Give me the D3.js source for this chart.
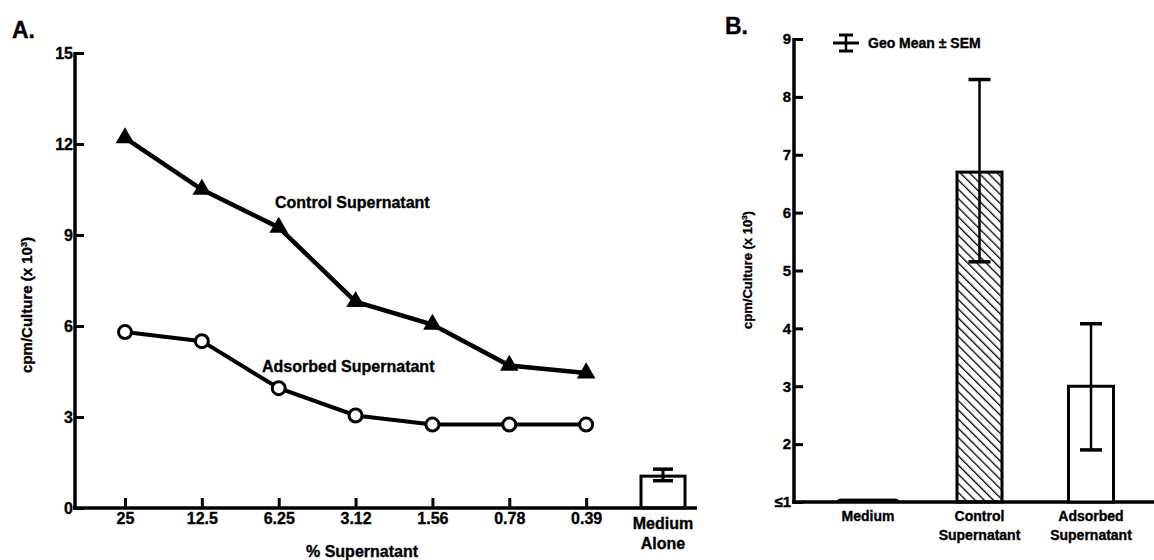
<!DOCTYPE html>
<html>
<head>
<meta charset="utf-8">
<script src="https://cdn.jsdelivr.net/npm/d3@7"></script>
<style>
	body { margin: 0; background: #fff; }
	text { font-family: "Liberation Sans", Arial, sans-serif; font-weight: bold; fill: #000; stroke: #000; stroke-width: 0.35px; }
</style>
</head>
<body>
<svg id="chart" width="1154" height="560"></svg>
<script>
// panel A
const concentrations = ['25', '12.5', '6.25', '3.12', '1.56', '0.78', '0.39'];
const controlValues = [12.2, 10.5, 9.25, 6.8, 6.05, 4.7, 4.45];
const adsorbedValues = [5.8, 5.5, 3.95, 3.05, 2.75, 2.75, 2.75];
const mediumAloneMean = 1.05;
const mediumAloneLow = 0.9;
const mediumAloneHigh = 1.28;
const yTicksA = [0, 3, 6, 9, 12, 15];

// panel B
const groupsB = ['Medium', 'Control Supernatant', 'Adsorbed Supernatant'];
const meansB = [1.05, 6.7, 3.0];
const lowB = [null, 5.15, 1.9];
const highB = [null, 8.3, 4.08];
const yTicksB = [1, 2, 3, 4, 5, 6, 7, 8, 9];

const svg = d3.select('#chart');

const defs = svg.append('defs');
defs
	.append('pattern')
	.attr('id', 'hatch')
	.attr('patternUnits', 'userSpaceOnUse')
	.attr('width', 6.5)
	.attr('height', 6.5)
	.attr('patternTransform', 'rotate(-45)')
	.append('line')
	.attr('x1', 0)
	.attr('y1', 0)
	.attr('x2', 0)
	.attr('y2', 6.5)
	.attr('stroke', '#000')
	.attr('stroke-width', 2.6);

// ---------- A ----------
const x = d3
	.scalePoint()
	.domain(concentrations.concat(['Medium Alone']))
	.range([125, 663]);
const y = d3.scaleLinear().domain([0, 15]).range([508, 53]);

svg.append('text').attr('x', 12).attr('y', 38).style('font-size', '23px').text('A.');

const axA = svg.append('g').attr('transform', 'translate(75,0)');
axA
	.call(d3.axisLeft(y).tickValues(yTicksA).tickSizeInner(-9).tickSizeOuter(0).tickPadding(2))
	.call(g => g.select('.domain').remove());
axA.selectAll('.tick line').attr('stroke-width', 3);
axA.selectAll('.tick text').style('font-size', '16px').style('font-family', null);
axA
	.append('line')
	.attr('y1', y(15) - 1)
	.attr('y2', y(0) + 1.5)
	.attr('stroke', '#000')
	.attr('stroke-width', 3.5);

const axAx = svg.append('g').attr('transform', 'translate(0,' + y(0) + ')');
axAx
	.call(d3.axisBottom(x).tickValues(concentrations).tickSizeInner(-10).tickSizeOuter(0).tickPadding(5))
	.call(g => g.select('.domain').remove());
axAx.selectAll('.tick line').attr('stroke-width', 3);
axAx.selectAll('.tick text').style('font-size', '16px').style('font-family', null);
axAx
	.append('line')
	.attr('x1', 73)
	.attr('x2', 697)
	.attr('stroke', '#000')
	.attr('stroke-width', 3.5);

const medLabel = svg
	.append('text')
	.attr('text-anchor', 'middle')
	.style('font-size', '16px');
medLabel.append('tspan').attr('x', x('Medium Alone')).attr('y', 529).text('Medium');
medLabel.append('tspan').attr('x', x('Medium Alone')).attr('y', 549).text('Alone');

svg
	.append('text')
	.attr('x', 362)
	.attr('y', 557)
	.attr('text-anchor', 'middle')
	.style('font-size', '16px')
	.text('% Supernatant');

svg
	.append('text')
	.attr('transform', 'translate(32,305) rotate(-90)')
	.attr('text-anchor', 'middle')
	.style('font-size', '15px')
	.html('cpm/Culture (x 10<tspan dy="-5" style="font-size:9px">3</tspan><tspan dy="5">)</tspan>');

// medium alone bar
const mx = x('Medium Alone');
svg
	.append('rect')
	.attr('x', mx - 22)
	.attr('y', y(mediumAloneMean))
	.attr('width', 44)
	.attr('height', y(0) - y(mediumAloneMean))
	.attr('fill', 'none')
	.attr('stroke', '#000')
	.attr('stroke-width', 3);
svg
	.append('line')
	.attr('x1', mx)
	.attr('x2', mx)
	.attr('y1', y(mediumAloneLow))
	.attr('y2', y(mediumAloneHigh))
	.attr('stroke', '#000')
	.attr('stroke-width', 3);
[mediumAloneLow, mediumAloneHigh].forEach(v => {
	svg
		.append('line')
		.attr('x1', mx - 10)
		.attr('x2', mx + 10)
		.attr('y1', y(v))
		.attr('y2', y(v))
		.attr('stroke', '#000')
		.attr('stroke-width', 3.5);
});

const line = d3
	.line()
	.x((d, i) => x(concentrations[i]))
	.y(d => y(d));

svg
	.append('path')
	.attr('d', line(controlValues))
	.attr('fill', 'none')
	.attr('stroke', '#000')
	.attr('stroke-width', 4.5);
svg
	.append('path')
	.attr('d', line(adsorbedValues))
	.attr('fill', 'none')
	.attr('stroke', '#000')
	.attr('stroke-width', 4);

const tri = d3.symbol().type(d3.symbolTriangle).size(150);
svg
	.append('g')
	.selectAll('path')
	.data(controlValues)
	.enter()
	.append('path')
	.attr('d', tri)
	.attr('transform', (d, i) => 'translate(' + x(concentrations[i]) + ',' + y(d) + ')')
	.attr('fill', '#000');

svg
	.append('g')
	.selectAll('circle')
	.data(adsorbedValues)
	.enter()
	.append('circle')
	.attr('cx', (d, i) => x(concentrations[i]))
	.attr('cy', d => y(d))
	.attr('r', 6.5)
	.attr('fill', '#fff')
	.attr('stroke', '#000')
	.attr('stroke-width', 3);

svg
	.append('text')
	.attr('x', 275)
	.attr('y', 208)
	.style('font-size', '16px')
	.text('Control Supernatant');
svg
	.append('text')
	.attr('x', 262)
	.attr('y', 372)
	.style('font-size', '16px')
	.text('Adsorbed Supernatant');

// ---------- B ----------
const xb = d3.scalePoint().domain(groupsB).range([868, 1091]);
const yb = d3.scaleLinear().domain([1, 9]).range([502, 39]);
const barW = 45;

svg.append('text').attr('x', 725).attr('y', 34).style('font-size', '23px').text('B.');

const axB = svg.append('g').attr('transform', 'translate(794,0)');
axB
	.call(
		d3
			.axisLeft(yb)
			.tickValues(yTicksB)
			.tickFormat(d => (d === 1 ? '≤1' : d))
			.tickSizeInner(-9)
			.tickSizeOuter(0)
			.tickPadding(3)
	)
	.call(g => g.select('.domain').remove());
axB.selectAll('.tick line').attr('stroke-width', 3);
axB.selectAll('.tick text').style('font-size', '15px').style('font-family', null);
axB
	.append('line')
	.attr('y1', yb(9) - 1)
	.attr('y2', yb(1) + 1.5)
	.attr('stroke', '#000')
	.attr('stroke-width', 3.5);
svg
	.append('line')
	.attr('x1', 792)
	.attr('x2', 1154)
	.attr('y1', yb(1))
	.attr('y2', yb(1))
	.attr('stroke', '#000')
	.attr('stroke-width', 3.5);

svg
	.append('text')
	.attr('transform', 'translate(752,270) rotate(-90)')
	.attr('text-anchor', 'middle')
	.style('font-size', '13px')
	.html('cpm/Culture (x 10<tspan dy="-5" style="font-size:8px">3</tspan><tspan dy="5">)</tspan>');

const bars = svg
	.append('g')
	.selectAll('g')
	.data(groupsB)
	.enter()
	.append('g')
	.attr('transform', d => 'translate(' + xb(d) + ',0)');

bars
	.append('rect')
	.attr('x', (d, i) => (i === 0 ? -30 : -barW / 2))
	.attr('y', (d, i) => yb(meansB[i]))
	.attr('width', (d, i) => (i === 0 ? 60 : barW))
	.attr('height', (d, i) => yb(1) - yb(meansB[i]))
	.attr('rx', (d, i) => (i === 0 ? 2 : 0))
	.attr('fill', (d, i) => (i === 1 ? 'url(#hatch)' : i === 0 ? '#000' : '#fff'))
	.attr('stroke', '#000')
	.attr('stroke-width', (d, i) => (i === 0 ? 1 : 3));

bars
	.filter((d, i) => highB[i] !== null)
	.each(function (d) {
		const i = groupsB.indexOf(d);
		const g = d3.select(this);
		g.append('line')
			.attr('y1', yb(lowB[i]))
			.attr('y2', yb(highB[i]))
			.attr('stroke', '#000')
			.attr('stroke-width', 2.5);
		[lowB[i], highB[i]].forEach(v => {
			g.append('line')
				.attr('x1', -11)
				.attr('x2', 11)
				.attr('y1', yb(v))
				.attr('y2', yb(v))
				.attr('stroke', '#000')
				.attr('stroke-width', 3.5);
		});
	});

const labB = svg
	.append('g')
	.selectAll('text')
	.data(groupsB)
	.enter()
	.append('text')
	.attr('text-anchor', 'middle')
	.style('font-size', '14px');
labB.each(function (d) {
	const words = d.split(' ');
	const t = d3.select(this);
	words.forEach((w, k) => {
		t.append('tspan').attr('x', xb(d)).attr('y', 521 + k * 19).text(w);
	});
});

// legend
const lg = svg.append('g').attr('transform', 'translate(846,43)');
lg.append('line').attr('x1', -13).attr('x2', 13).attr('stroke', '#000').attr('stroke-width', 3);
lg.append('line').attr('y1', -8).attr('y2', 8).attr('stroke', '#000').attr('stroke-width', 2.5);
[-8, 8].forEach(v =>
	lg.append('line').attr('x1', -7).attr('x2', 7).attr('y1', v).attr('y2', v).attr('stroke', '#000').attr('stroke-width', 3)
);
lg.append('text').attr('x', 22).attr('y', 5).style('font-size', '14px').text('Geo Mean ± SEM');
</script>
</body>
</html>
